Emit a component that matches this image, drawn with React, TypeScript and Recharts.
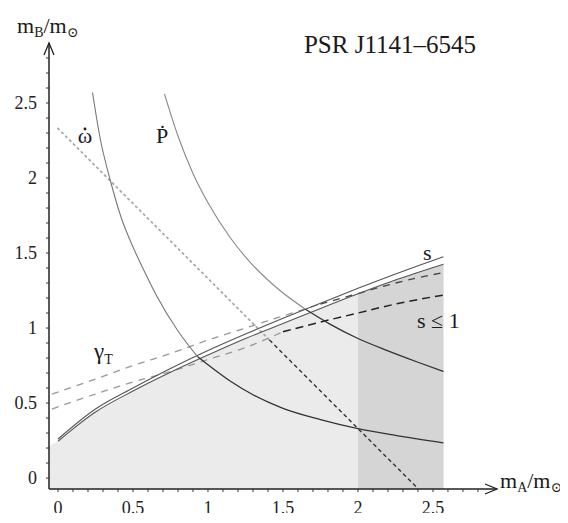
import { ComposedChart, Line, Area, XAxis, YAxis } from "recharts";

// m_A values (x) and m_B values (y)
const sX = [0, 0.25, 0.5, 0.75, 1.0, 1.25, 1.5, 1.75, 2.0, 2.25, 2.57];
const sUpperY = [0.26, 0.46, 0.6, 0.73, 0.85, 0.96, 1.065, 1.165, 1.265, 1.36, 1.475];
const sLowerY = [0.245, 0.44, 0.58, 0.705, 0.82, 0.93, 1.03, 1.13, 1.228, 1.32, 1.425];

const gammaX = [-0.04, 0.25, 0.5, 0.75, 1.0, 1.25, 1.5, 1.75, 2.0, 2.25, 2.57];
const gammaUpperY = [0.56, 0.66, 0.75, 0.83, 0.92, 1.0, 1.08, 1.16, 1.23, 1.3, 1.37];
const gammaLowerY = [0.46, 0.56, 0.64, 0.71, 0.79, 0.87, 0.975, 1.04, 1.1, 1.16, 1.22];

const curveAX = [0.23, 0.28, 0.35, 0.42, 0.5, 0.58, 0.66, 0.8, 0.93, 1.0, 1.15, 1.3, 1.5, 1.75, 2.0, 2.25, 2.57];
const curveAY = [2.57, 2.27, 1.98, 1.74, 1.54, 1.37, 1.21, 0.98, 0.81, 0.755, 0.645, 0.555, 0.465, 0.39, 0.33, 0.285, 0.235];

const pdotX = [0.71, 0.8, 0.9, 1.0, 1.15, 1.3, 1.48, 1.65, 1.81, 2.0, 2.2, 2.4, 2.57];
const pdotY = [2.56, 2.28, 2.03, 1.835, 1.6, 1.418, 1.25, 1.125, 1.028, 0.93, 0.848, 0.772, 0.71];

const omegaX = [0, 1.41, 2.39];
const omegaY = [2.33, 0.92, -0.06];

const shadeEdge = { x: -0.06, y: 0.215 };
const darkFrom = 2.0;

const xTickLabels = [0, 0.5, 1, 1.5, 2, 2.5];
const yTickLabels = [0, 0.5, 1, 1.5, 2, 2.5];
const minorTicks = Array.from({ length: 29 }, (_, i) => i / 10);

const pts = (xs: number[], ys: number[]) => xs.map((x, i) => ({ x, y: ys[i] }));

const sUpper = pts(sX, sUpperY);
const sLower = pts(sX, sLowerY);
const gammaUpper = pts(gammaX, gammaUpperY);
const gammaLower = pts(gammaX, gammaLowerY);
const curveA = pts(curveAX, curveAY);
const pdot = pts(pdotX, pdotY);
const omega = pts(omegaX, omegaY);

const lightShade = [shadeEdge, ...sLower];
const darkShade = sLower.filter((p) => p.x >= darkFrom);

const upTo = (d: { x: number; y: number }[], s: number) => d.filter((p) => p.x <= s);
const from = (d: { x: number; y: number }[], s: number) => d.filter((p) => p.x >= s);

const fmt = (labels: number[]) => (v: number) =>
  labels.some((l) => Math.abs(l - v) < 1e-6) ? String(v) : "";

const serif = '"Liberation Serif", "DejaVu Serif", serif';

export default function App() {
  return (
    <div style={{ position: "relative", width: 552, height: 515, marginBottom: -10, fontFamily: serif }}>
      <ComposedChart width={552} height={515} margin={{ top: 35, right: 63, left: 0, bottom: 8 }}>
        <XAxis
          type="number"
          dataKey="x"
          domain={[-0.06, 2.927]}
          allowDataOverflow
          ticks={minorTicks}
          interval={0}
          tickFormatter={fmt(xTickLabels)}
          height={26}
          tickSize={3}
          tickMargin={9}
          axisLine={{ stroke: "#222", strokeWidth: 1.5 }}
          tickLine={{ stroke: "#333" }}
          tick={{ fill: "#222", fontSize: 18, fontFamily: serif }}
        />
        <YAxis
          type="number"
          dataKey="y"
          domain={[-0.073, 2.9]}
          allowDataOverflow
          ticks={minorTicks}
          interval={0}
          tickFormatter={fmt(yTickLabels)}
          width={41}
          tickSize={3}
          tickMargin={9}
          axisLine={{ stroke: "#222", strokeWidth: 1.5 }}
          tickLine={{ stroke: "#333" }}
          tick={{ fill: "#222", fontSize: 18, fontFamily: serif }}
        />

        {/* allowed region */}
        <Area data={lightShade} dataKey="y" type="monotone" baseValue={-0.073} fill="#ebebeb" fillOpacity={1} stroke="none" isAnimationActive={false} />
        <Area data={darkShade} dataKey="y" type="monotone" baseValue={-0.073} fill="#d5d5d5" fillOpacity={1} stroke="none" isAnimationActive={false} />

        {/* omega-dot: total mass */}
        <Line data={upTo(omega, 1.41)} dataKey="y" type="linear" stroke="#aaa" strokeWidth={1.8} strokeDasharray="1.5 4" strokeLinecap="round" dot={false} activeDot={false} isAnimationActive={false} />
        <Line data={from(omega, 1.41)} dataKey="y" type="linear" stroke="#333" strokeWidth={1.4} strokeDasharray="4 3" dot={false} activeDot={false} isAnimationActive={false} />

        {/* gamma bounds */}
        <Line data={upTo(gammaUpper, 1.75)} dataKey="y" type="monotone" stroke="#999" strokeWidth={1.3} strokeDasharray="7 6" dot={false} activeDot={false} isAnimationActive={false} />
        <Line data={from(gammaUpper, 1.75)} dataKey="y" type="monotone" stroke="#444" strokeWidth={1.3} strokeDasharray="7 6" dot={false} activeDot={false} isAnimationActive={false} />
        <Line data={upTo(gammaLower, 1.5)} dataKey="y" type="monotone" stroke="#999" strokeWidth={1.3} strokeDasharray="7 6" dot={false} activeDot={false} isAnimationActive={false} />
        <Line data={from(gammaLower, 1.5)} dataKey="y" type="monotone" stroke="#222" strokeWidth={1.5} strokeDasharray="8 5" dot={false} activeDot={false} isAnimationActive={false} />

        {/* s lines */}
        <Line data={sUpper} dataKey="y" type="monotone" stroke="#555" strokeWidth={1.1} dot={false} activeDot={false} isAnimationActive={false} />
        <Line data={sLower} dataKey="y" type="monotone" stroke="#555" strokeWidth={1.1} dot={false} activeDot={false} isAnimationActive={false} />

        {/* solid curves */}
        <Line data={upTo(curveA, 0.93)} dataKey="y" type="monotone" stroke="#777" strokeWidth={1.1} dot={false} activeDot={false} isAnimationActive={false} />
        <Line data={from(curveA, 0.93)} dataKey="y" type="monotone" stroke="#333" strokeWidth={1.3} dot={false} activeDot={false} isAnimationActive={false} />
        <Line data={upTo(pdot, 1.65)} dataKey="y" type="monotone" stroke="#888" strokeWidth={1.1} dot={false} activeDot={false} isAnimationActive={false} />
        <Line data={from(pdot, 1.65)} dataKey="y" type="monotone" stroke="#333" strokeWidth={1.3} dot={false} activeDot={false} isAnimationActive={false} />
      </ComposedChart>

      <svg width={560} height={515} style={{ position: "absolute", left: 0, top: 0, pointerEvents: "none", overflow: "visible" }}>
        <path d="M36,47 L41,35 L46,47" fill="none" stroke="#222" strokeWidth={1.3} />
        <path d="M477,476 L489,481 L477,486" fill="none" stroke="#222" strokeWidth={1.3} />
        <circle cx={77} cy={121} r={1.4} fill="#1a1a1a" />
        <g fill="#1a1a1a" fontFamily={serif}>
          <text x={382} y={45} fontSize={25} textAnchor="middle">PSR J1141–6545</text>
          <text x={9} y={25} fontSize={22}>
            m<tspan fontSize={14} dy={4}>B</tspan>
            <tspan dy={-4}>/m</tspan>
            <tspan fontSize={14} dy={4}>⊙</tspan>
          </text>
          <text x={492} y={480} fontSize={22}>
            m<tspan fontSize={14} dy={4}>A</tspan>
            <tspan dy={-4}>/m</tspan>
            <tspan fontSize={14} dy={4}>⊙</tspan>
          </text>
          <text x={77} y={135} fontSize={22} textAnchor="middle">ω</text>
          <text x={154} y={135} fontSize={22} textAnchor="middle">{"P\u0307"}</text>
          <text x={86} y={351} fontSize={23}>
            γ<tspan fontSize={14} dy={5}>T</tspan>
          </text>
          <text x={415} y={252} fontSize={22}>s</text>
          <text x={409} y={320} fontSize={22}>s ≤ 1</text>
        </g>
      </svg>
    </div>
  );
}
